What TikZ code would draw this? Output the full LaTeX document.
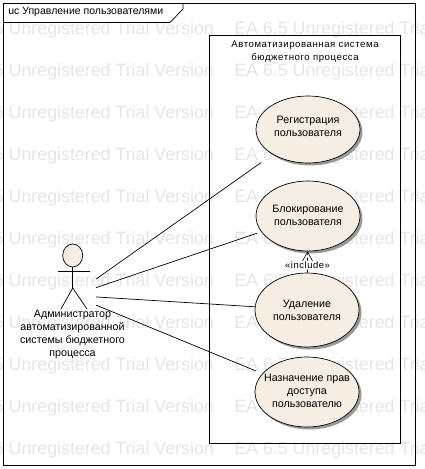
\documentclass[tikz,border=0pt]{standalone}
\usepackage{fontspec}
\setmainfont{Liberation Sans}
\usetikzlibrary{shapes.geometric,shadows,arrows.meta}
\definecolor{ucfill}{HTML}{F6EEE2}
\tikzset{
    ucnode/.style={ellipse,draw,fill=ucfill,inner sep=0pt,minimum width=104pt,
        drop shadow={shadow xshift=2.5pt,shadow yshift=-2.5pt,fill=black!40,opacity=1}},
    assoc/.style={draw,line width=0.7pt},
    watermark/.style={anchor=west,text=black!10,font=\fontsize{17.8}{20}\selectfont,inner sep=0pt},
    small/.style={font=\fontsize{10.7}{13}\selectfont,align=center,inner sep=0pt}
}
\begin{document}
\begin{tikzpicture}[x=1pt,y=-1pt,line width=0.7pt]
    \useasboundingbox (0,0) rectangle (425,469);
    \begin{scope}
        \clip (0,0) rectangle (425,469);
        \foreach \y in {30,72,114,156,198,240,282,324,366,408,450}{
            \node[watermark] (wma\y) at (-50,\y) {EA 6.5 Unregistered Trial Version};
            \node[watermark] (wmb\y) at (234,\y) {EA 6.5 Unregistered Trial Version};
        }
    \end{scope}
    % frame
    \draw (3.5,3.5) rectangle (415,465);
    \draw (3.5,22.5)--(170,22.5)--(183,9)--(183,3.5);
    \node[small,anchor=west,font=\fontsize{10.5}{13}\selectfont] (title) at (8,12) {uc Управление пользователями};
    % system
    \draw (209.5,35.5) rectangle (400,443);
    \node[small,font=\fontsize{9.6}{13}\selectfont\addfontfeature{LetterSpace=6}] (sysname) at (305,52) {Автоматизированная система\\бюджетного процесса};
    % use cases
    \node[ucnode,minimum height=67pt] (regUC) at (308,129.5) {};
    \node[ucnode,minimum height=70pt] (blockUC) at (308,216) {};
    \node[ucnode,minimum height=74pt] (delUC) at (307,310) {};
    \node[ucnode,minimum height=70pt] (rightsUC) at (307,392) {};
    \node[small] (regLbl) at (308,126.5) {Регистрация\\пользователя};
    \node[small] (blockLbl) at (308,215) {Блокирование\\пользователя};
    \node[small] (delLbl) at (307,310.5) {Удаление\\пользователя};
    \node[small] (rightsLbl) at (307,391) {Назначение прав\\доступа\\пользователю};
    % actor
    \draw[fill=ucfill] (72.7,255.5) ellipse (10 and 11.5);
    \draw (72.7,267)--(72.7,288) (58,271.5)--(90,271.5);
    \draw (61,309)--(72.7,288)--(87,309);
    \node[inner sep=0pt,minimum width=46pt,minimum height=112pt] (actorNd) at (72.7,295.5) {};
    \node[small] (actorName) at (72.5,334) {Администратор\\автоматизированной\\системы бюджетного\\процесса};
    % links
    \draw[assoc,shorten >=14pt] (actorNd)--(regUC);
    \draw[assoc,shorten >=4pt] (actorNd)--(blockUC);
    \draw[assoc] (actorNd)--(delUC);
    \draw[assoc,shorten >=7pt] (actorNd)--(rightsUC);
    \draw[dashed,-{Straight Barb[length=9pt,width=10pt,line width=0.6pt]}] (delUC)--(blockUC)
        node[pos=0.36,fill=white,inner sep=1pt,font=\fontsize{9.4}{10}\selectfont\addfontfeature{LetterSpace=6}] (inclLbl) {«include»};
\end{tikzpicture}
\end{document}
